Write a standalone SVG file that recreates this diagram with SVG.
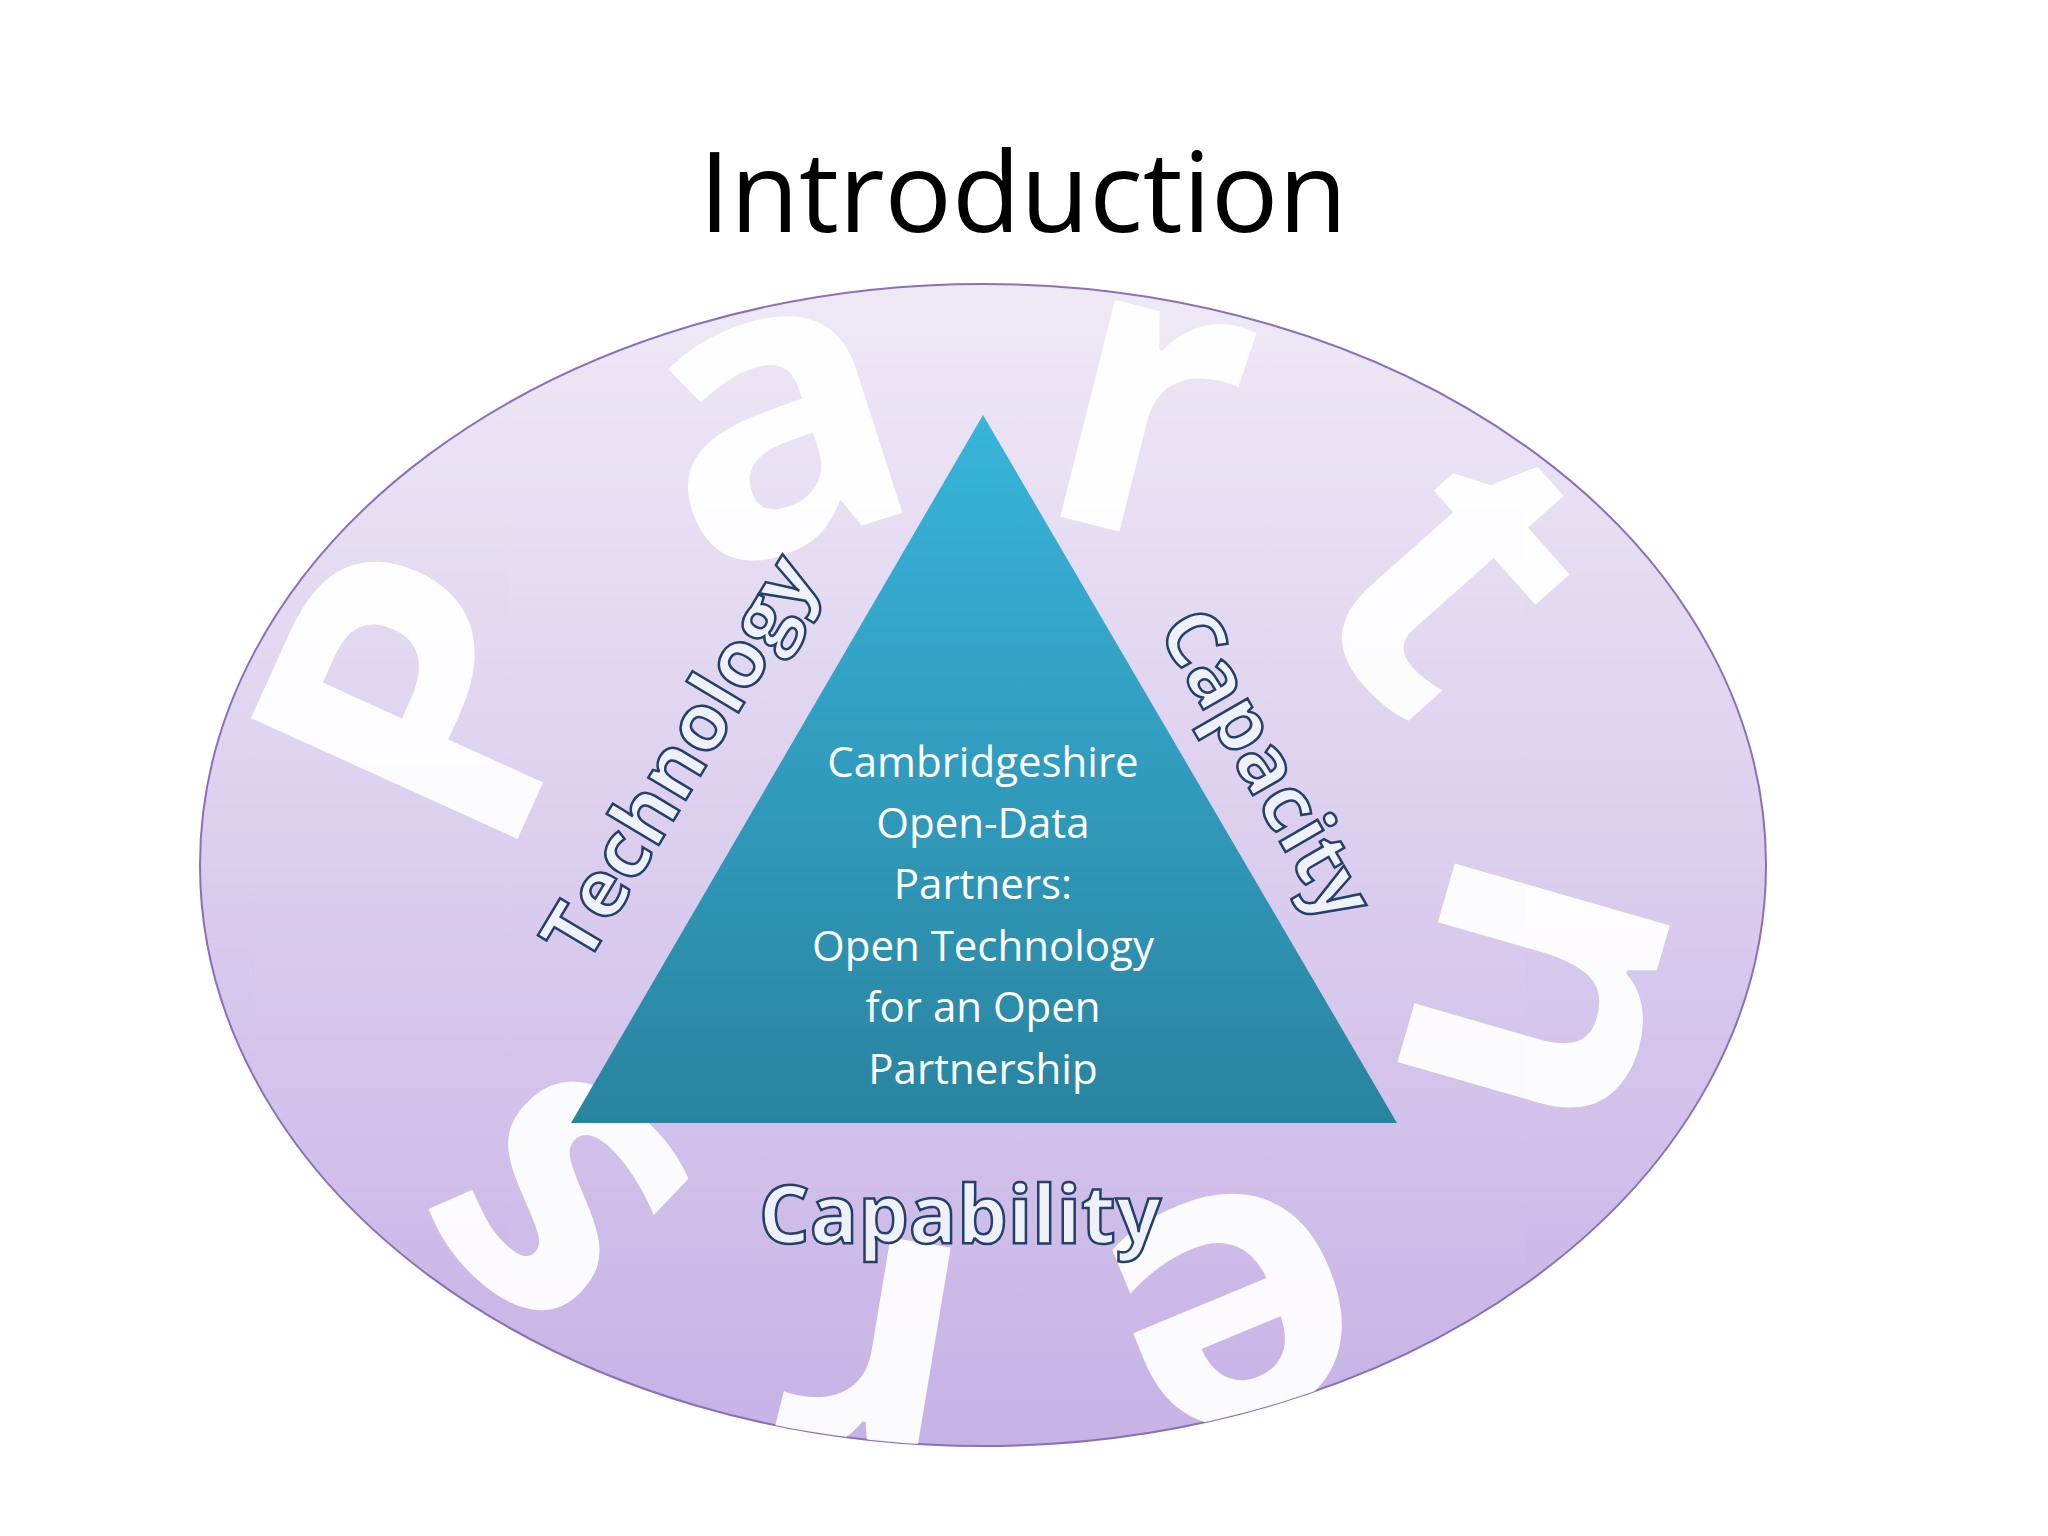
<svg xmlns="http://www.w3.org/2000/svg" width="2048" height="1536" viewBox="0 0 2048 1536">
<defs>
<linearGradient id="eg" x1="0" y1="0" x2="0" y2="1"><stop offset="0" stop-color="#efe9f6"/><stop offset="1" stop-color="#c7b2e6"/></linearGradient>
<linearGradient id="tg" x1="0" y1="0" x2="0" y2="1"><stop offset="0" stop-color="#38b4da"/><stop offset="1" stop-color="#2984a0"/></linearGradient>
<path id="ring" d="M528,880 A455,365 0 1 1 1438,880 A455,365 0 1 1 528,880"/>
<clipPath id="ec"><ellipse cx="983" cy="865" rx="783" ry="581"/></clipPath>
<style>
.big{font-family:"Open Sans","DejaVu Sans",sans-serif;font-size:410px;font-weight:bold;fill:#ffffff;opacity:0.93}
.side{font-family:"Open Sans","DejaVu Sans",sans-serif;font-size:80px;font-weight:bold;fill:#eef1f7;stroke:#24406a;stroke-width:2.5;text-anchor:middle}
.inner{font-family:"Open Sans","DejaVu Sans",sans-serif;font-size:42px;fill:#ffffff;text-anchor:middle}
</style>
</defs>
<rect width="2048" height="1536" fill="#ffffff"/>
<text x="1023" y="232" font-family="Open Sans, DejaVu Sans, sans-serif" font-size="112" text-anchor="middle" fill="#000">Introduction</text>
<g id="ellipse"><ellipse cx="983" cy="865" rx="783" ry="581" fill="url(#eg)" stroke="#8a70b8" stroke-width="2"/></g>
<g id="partners" clip-path="url(#ec)"><text class="big"><textPath href="#ring" textLength="2420" lengthAdjust="spacing">Partners</textPath></text></g>
<g id="triangle"><polygon points="983,415 571,1123 1397,1123" fill="url(#tg)"/>
<text class="inner"><tspan x="983" y="777">Cambridgeshire</tspan><tspan x="983" y="838">Open-Data</tspan><tspan x="983" y="899">Partners:</tspan><tspan x="983" y="961">Open Technology</tspan><tspan x="983" y="1022">for an Open</tspan><tspan x="983" y="1084">Partnership</tspan></text></g>
<g id="technology"><text class="side" transform="translate(679,757) rotate(-59)" y="28">Technology</text></g>
<g id="capacity"><text class="side" transform="translate(1267,764) rotate(60)" y="28">Capacity</text></g>
<g id="capability"><text class="side" x="960" y="1243">Capability</text></g>
</svg>
